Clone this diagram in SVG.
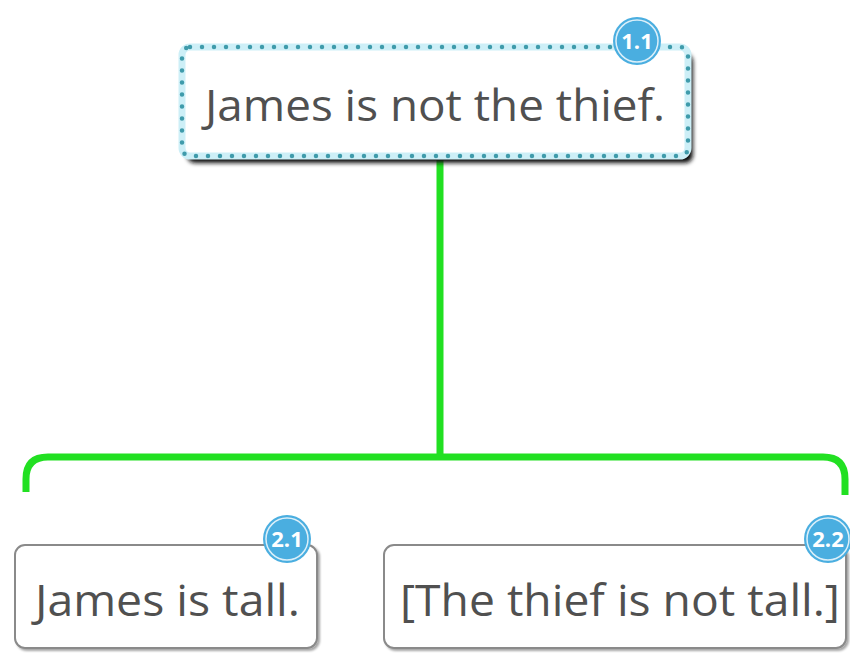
<svg xmlns="http://www.w3.org/2000/svg" width="850" height="653" viewBox="0 0 850 653">
  <defs>
    <filter id="deepShadow" x="-10%" y="-20%" width="130%" height="160%">
      <feGaussianBlur in="SourceAlpha" stdDeviation="2"/>
      <feOffset dx="5" dy="7" result="b"/>
      <feFlood flood-color="#111" flood-opacity="1"/>
      <feComposite in2="b" operator="in"/>
      <feMerge><feMergeNode/><feMergeNode in="SourceGraphic"/></feMerge>
    </filter>
    <filter id="softShadow" x="-10%" y="-10%" width="130%" height="130%">
      <feGaussianBlur in="SourceAlpha" stdDeviation="1"/>
      <feOffset dx="1.5" dy="2" result="b"/>
      <feFlood flood-color="#000" flood-opacity="0.35"/>
      <feComposite in2="b" operator="in"/>
      <feMerge><feMergeNode/><feMergeNode in="SourceGraphic"/></feMerge>
    </filter>
  </defs>
  <style>
    .label { font-family: "Open Sans", "Liberation Sans", sans-serif; fill: #505050; }
    .card { fill: #fff; stroke: #8a8a8a; stroke-width: 2; }
    .badge circle.disc { fill: #4aaee0; }
    .badge circle.ring { fill: none; stroke: #fff; stroke-width: 1.5; opacity: 0.8; }
    .badge text { font-family: "Open Sans", "Liberation Sans", sans-serif; font-weight: bold; font-size: 22px; fill: #fff; text-anchor: middle; }
    .link { fill: none; stroke: #22e022; stroke-width: 7; }
  </style>

  <rect width="850" height="653" fill="#fff"/>

  <!-- connectors -->
  <g id="connectors">
    <path class="link" d="M440,160 V457"/>
    <path class="link" d="M26,492 V479 Q26,457 48,457 H823 Q845,457 845,479 V495"/>
  </g>

  <!-- claim 1.1 -->
  <g id="node-1-1">
    <rect x="182" y="47" width="506" height="109" rx="8" fill="#fff" filter="url(#deepShadow)"/>
    <rect x="182" y="47" width="506" height="109" rx="8" fill="none" stroke="#cdeff7" stroke-width="7"/>
    <rect x="182" y="47" width="506" height="109" rx="8" fill="none" stroke="#3f9bab" stroke-width="4.5" stroke-linecap="round" stroke-dasharray="0 12"/>
    <text class="label" x="205" y="121" font-size="43" textLength="460" lengthAdjust="spacingAndGlyphs">James is not the thief.</text>
    <g class="badge">
      <circle class="disc" cx="637" cy="41" r="24"/>
      <circle class="ring" cx="637" cy="41" r="21"/>
      <text x="637" y="49">1.1</text>
    </g>
  </g>

  <!-- premise 2.1 -->
  <g id="node-2-1">
    <rect class="card" x="15" y="545" width="302" height="103" rx="10" filter="url(#softShadow)"/>
    <text class="label" x="35" y="616" font-size="43" textLength="265" lengthAdjust="spacingAndGlyphs">James is tall.</text>
    <g class="badge">
      <circle class="disc" cx="287" cy="539" r="24"/>
      <circle class="ring" cx="287" cy="539" r="21"/>
      <text x="287" y="547">2.1</text>
    </g>
  </g>

  <!-- premise 2.2 -->
  <g id="node-2-2">
    <rect class="card" x="384" y="545" width="462" height="103" rx="10" filter="url(#softShadow)"/>
    <text class="label" x="400" y="616" font-size="43" textLength="440" lengthAdjust="spacingAndGlyphs">[The thief is not tall.]</text>
    <g class="badge">
      <circle class="disc" cx="828" cy="539" r="24"/>
      <circle class="ring" cx="828" cy="539" r="21"/>
      <text x="828" y="547">2.2</text>
    </g>
  </g>
</svg>
